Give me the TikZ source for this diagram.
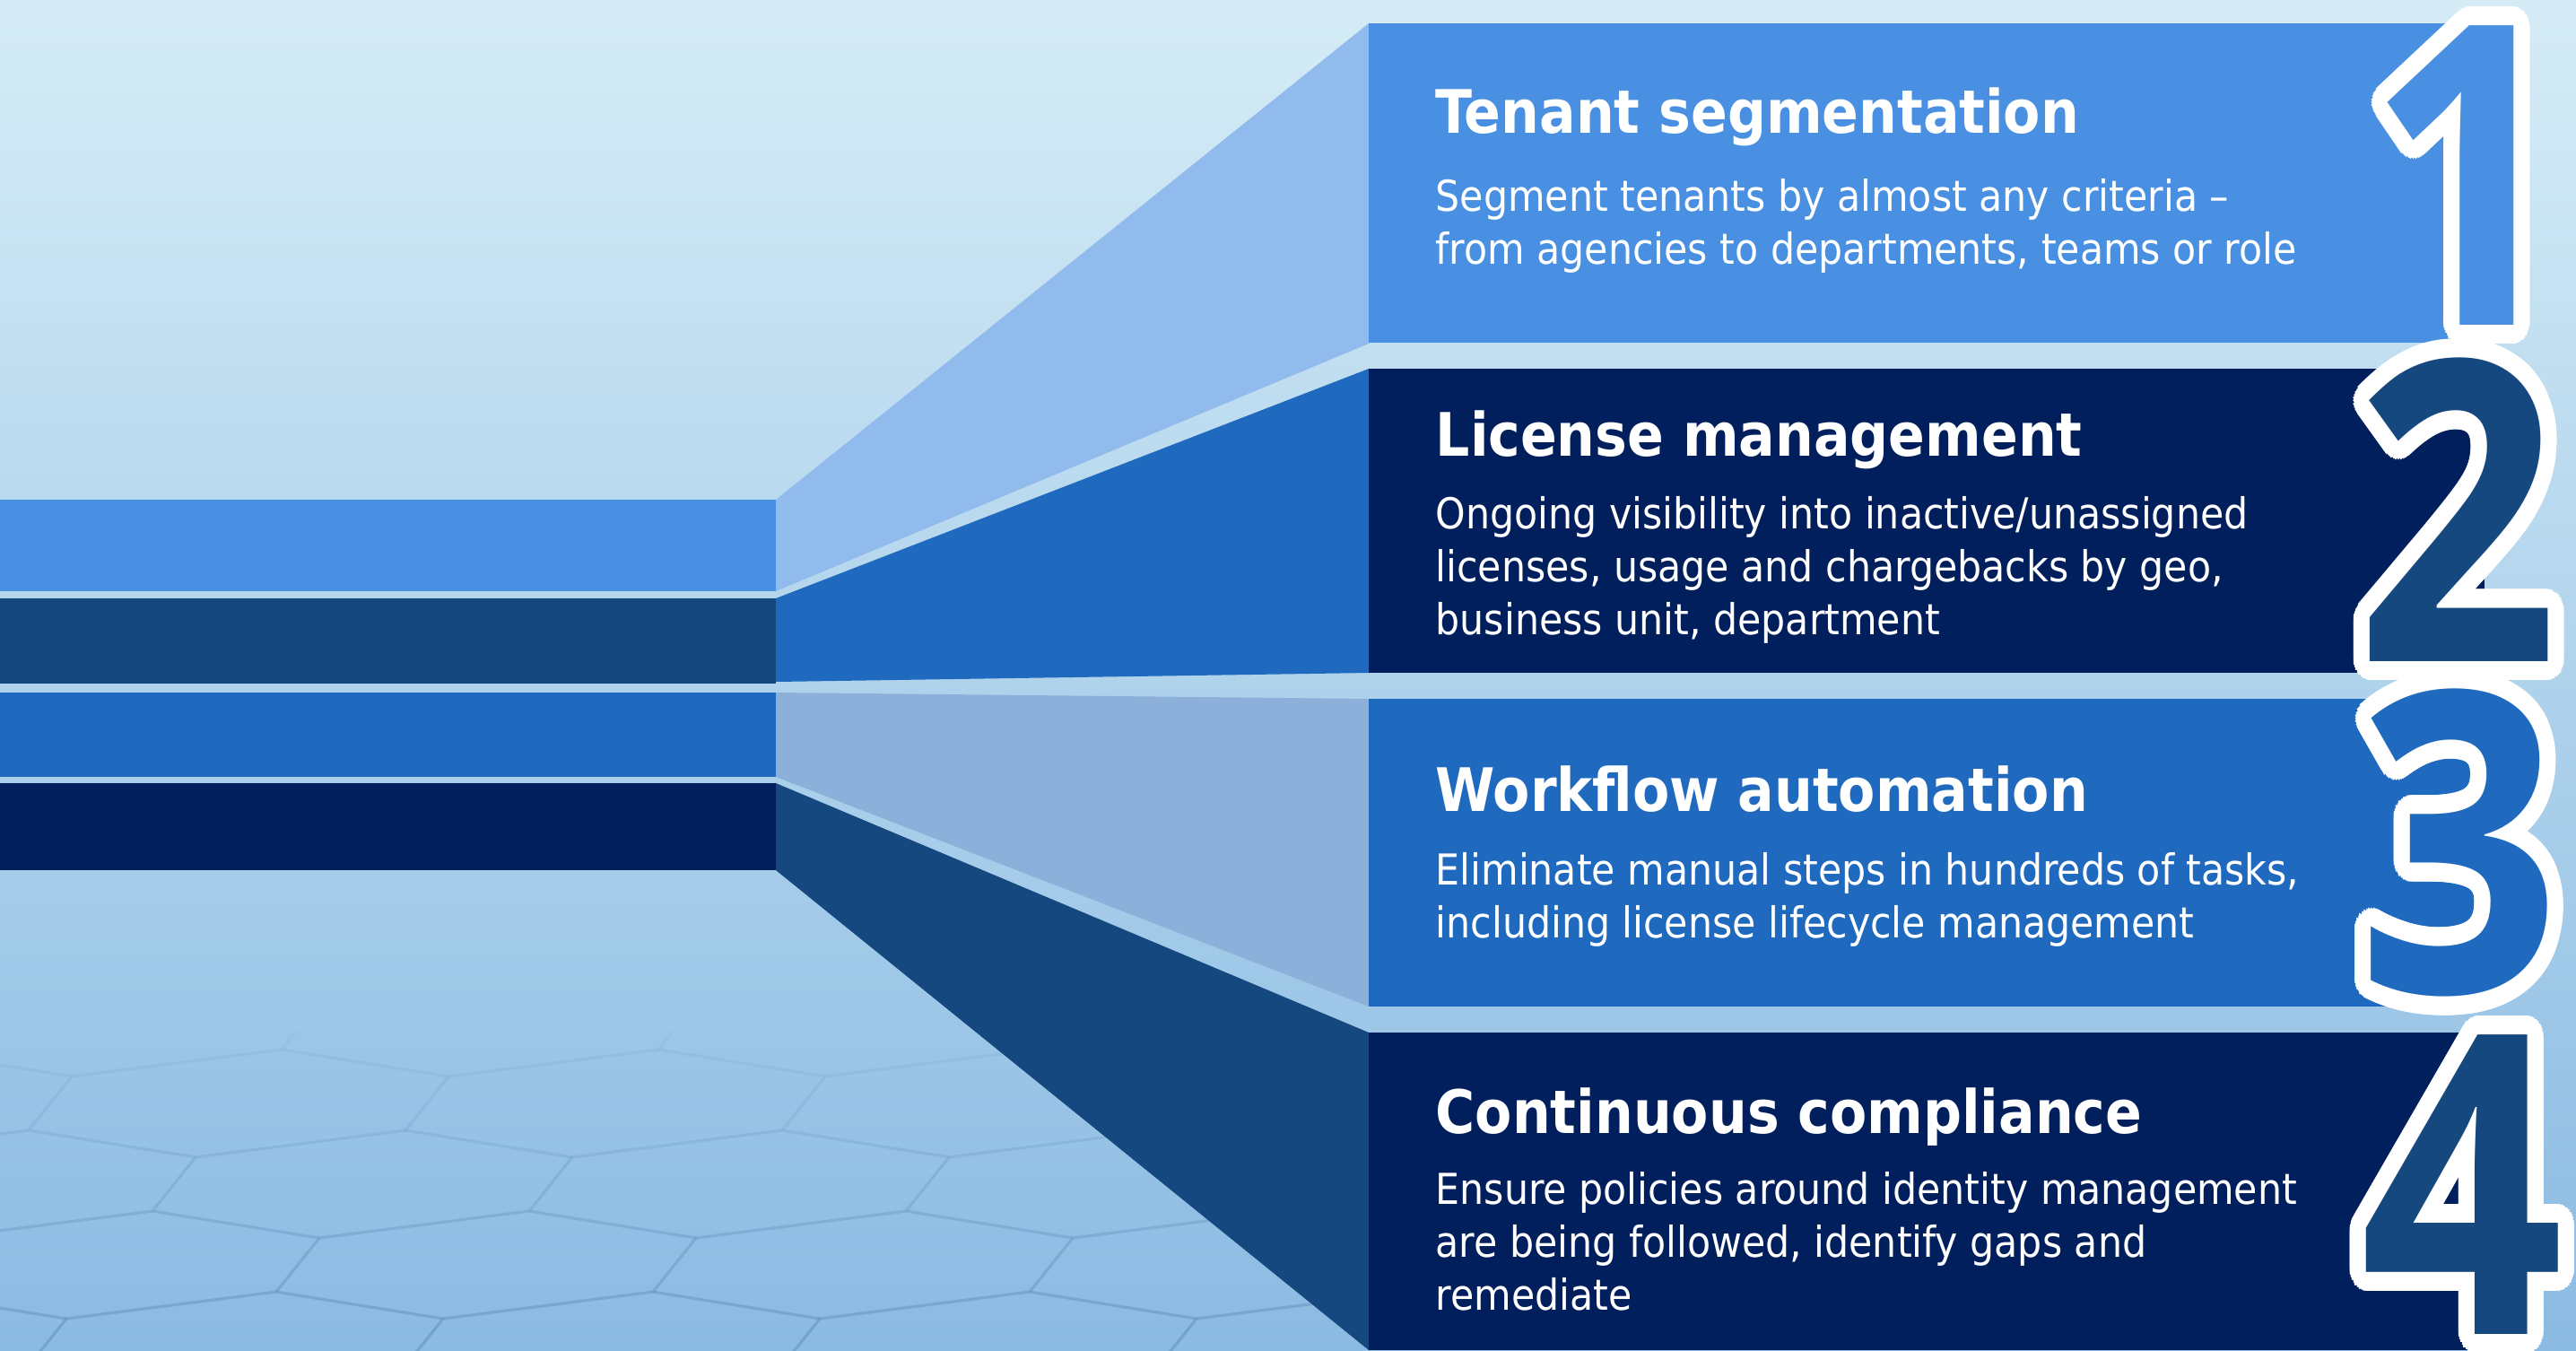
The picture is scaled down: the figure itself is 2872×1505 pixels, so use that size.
\documentclass[tikz,border=0pt]{standalone}
\usepackage{fontspec}
\usepackage{contour}
\usetikzlibrary{positioning,calc}
\newfontfamily\cardfont{DejaVuSansCondensed}[Extension=.ttf,BoldFont=DejaVuSansCondensed-Bold]
\newfontfamily\digitfont{Open Sans}
\definecolor{skyblue}{HTML}{4A90E2}
\definecolor{paleblue}{HTML}{92BBED}
\definecolor{midblue}{HTML}{1F6ABF}
\definecolor{greyblue}{HTML}{8CB0DA}
\definecolor{steelblue}{HTML}{15487F}
\definecolor{navyblue}{HTML}{001F5C}
\definecolor{bgtop}{HTML}{D5ECF6}
\definecolor{bgmid}{HTML}{BBDCEE}
\definecolor{bgbottom}{HTML}{8BBAE2}
\contourlength{6pt}
\contournumber{40}
\tikzstyle{cardtitle}=[anchor=base west,inner sep=0pt,text=white,font=\cardfont\bfseries\fontsize{19}{23}\selectfont]
\tikzstyle{cardbody}=[anchor=base west,inner sep=0pt,text=white,font=\cardfont\fontsize{13.5}{16.8}\selectfont]
\tikzstyle{bignum}=[inner sep=0pt,xscale=0.85,font=\digitfont\bfseries\fontsize{133}{133}\selectfont]
\tikzstyle{hexline}=[draw=steelblue,line width=0.9pt,line join=round]

\begin{document}
\begin{tikzpicture}[x=0.01cm,y=-0.01cm]
  \useasboundingbox (0,0) rectangle (2872,1505);
  \shade[top color=bgtop,middle color=bgmid,bottom color=bgbottom] (0,0) rectangle (2872,1505);

  % Faint honeycomb on the floor
  \begin{scope}
    \clip (0,1150) rectangle (1526,1505);
    \begin{scope}[shift={(0,1300)},xslant=0.8]
      \foreach \row in {0,...,4}
        \foreach \col in {-2,...,7} {
          \pgfmathsetmacro\cx{\col*420+mod(\row,2)*210}
          \pgfmathsetmacro\cy{\row*90-160}
          \pgfmathsetmacro\op{0.015+0.022*\row}
          \draw[hexline,draw opacity=\op] (\cx,\cy) ++(0,-60) -- ++(210,30) -- ++(0,60)
            -- ++(-210,30) -- ++(-210,-30) -- ++(0,-60) -- cycle;
        }
    \end{scope}
  \end{scope}

  % Bars coming in from the left
  \foreach \ya/\yb/\col in {557/659/skyblue, 667/762/steelblue,
                            772/866/midblue, 873/970/navyblue}
    \fill[\col] (0,\ya) rectangle (865,\yb);

  % Fans opening towards the cards
  \foreach \ya/\yb/\yc/\yd/\col in {557/26/383/659/paleblue, 667/411/750/760/midblue,
                                    772/779/1122/866/greyblue, 873/1151/1505/970/steelblue}
    \fill[\col] (865,\ya) -- (1526,\yb) -- (1526,\yc) -- (865,\yd) -- cycle;

  % Cards
  \foreach \ya/\yb/\col in {26/382/skyblue, 411/750/navyblue,
                            779/1122/midblue, 1151/1505/navyblue}
    \fill[\col] (1526,\ya) rectangle (2770,\yb);

  \node[cardtitle] (t1) at (1600,148) {Tenant segmentation};
  \node[cardbody] (b1) at (1600,235) {\parbox[t]{12cm}{Segment tenants by almost any criteria –\\
    from agencies to departments, teams or role}};

  \node[cardtitle] (t2) at (1600,508) {License management};
  \node[cardbody] (b2) at (1600,589) {\parbox[t]{12cm}{Ongoing visibility into inactive/unassigned\\
    licenses, usage and chargebacks by geo,\\business unit, department}};

  \node[cardtitle] (t3) at (1600,904) {Workflow automation};
  \node[cardbody] (b3) at (1600,986) {\parbox[t]{12cm}{Eliminate manual steps in hundreds of tasks,\\
    including license lifecycle management}};

  \node[cardtitle] (t4) at (1600,1263) {Continuous compliance};
  \node[cardbody] (b4) at (1600,1342) {\parbox[t]{12cm}{Ensure policies around identity management\\
    are being followed, identify gaps and\\remediate}};

  % Big outlined numbers
  \foreach \pos/\name/\col in {{(2752,206)/1/skyblue}, {(2740,579)/2/steelblue},
                               {(2742,950)/3/midblue}, {(2745,1331)/4/steelblue}}
    \node[bignum,text=\col] (n\name) at \pos {\contour{white}{\name}};
\end{tikzpicture}
\end{document}
